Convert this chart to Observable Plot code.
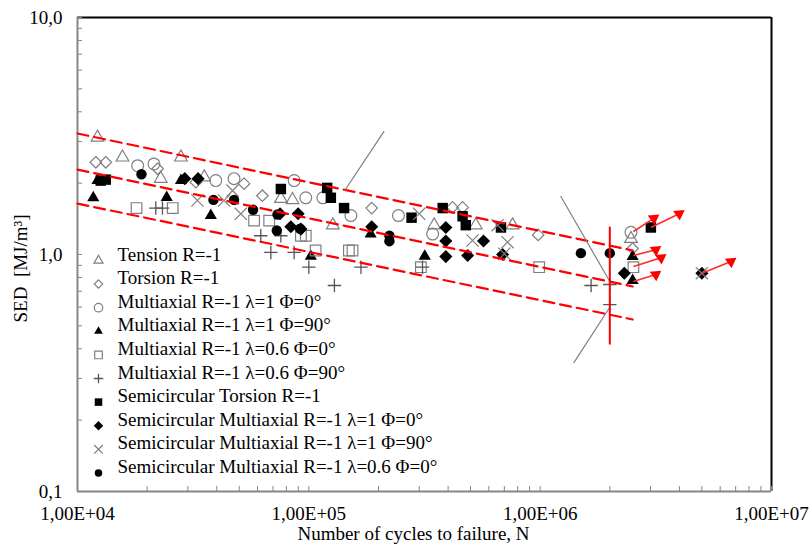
<!DOCTYPE html>
<html><head><meta charset="utf-8">
<script src="https://cdn.jsdelivr.net/npm/d3@7"></script>
<script src="https://cdn.jsdelivr.net/npm/@observablehq/plot@0.6"></script>
<style>html,body{margin:0;padding:0;background:#fff;overflow:hidden}</style>
</head><body><div id="chart"></div>
<script>
// ---- axis ticks ----
const xTicks = [1e4, 1e5, 1e6, 1e7];
const xTickLabels = ["1,00E+04", "1,00E+05", "1,00E+06", "1,00E+07"];
const yTicks = [0.1, 1, 10];
const yTickLabels = ["0,1", "1,0", "10,0"];
const xTitle = "Number of cycles to failure, N";
const yTitle = "SED  [MJ/m³]";

// ---- data series [N, SED] ----
const tension = [[1.22e4,3.12],[1.565e4,2.57],[2.8e4,2.57],[2.29e4,2.09],[3.53e4,2.12],[7.57e4,1.72],[8.5e4,1.70],[1.27e5,1.33],[3.48e5,1.33],[5.27e5,1.33],[7.6e5,1.33],[2.47e6,1.165]];
const torsion = [[1.2e4,2.45],[1.325e4,2.45],[2.22e4,2.30],[3.25e4,2.02],[5.25e4,1.99],[6.3e4,1.77],[1.87e5,1.57],[4.18e5,1.58],[4.62e5,1.58],[9.8e5,1.21],[2.51e6,1.06]];
const multi_l1_p0 = [[1.82e4,2.37],[2.14e4,2.41],[3.96e4,2.05],[4.75e4,2.09],[8.64e4,2.05],[9.7e4,1.735],[1.15e5,1.735],[1.52e5,1.46],[2.44e5,1.46],[3.43e5,1.22],[2.47e6,1.24]];
const multi_l1_p90 = [[1.17e4,1.735],[1.22e4,2.05],[2.43e4,1.74],[2.8e4,2.05],[3.77e4,1.46],[1.02e5,0.984],[1.85e5,1.22],[3.17e5,0.984],[2.51e6,0.98],[2.51e6,0.777]];
const multi_l06_p0 = [[1.8e4,1.57],[2.58e4,1.57],[5.8e4,1.39],[6.74e4,1.39],[9.24e4,1.20],[9.7e4,1.20],[1.07e5,1.04],[1.49e5,1.04],[1.545e5,1.04],[3.05e5,0.884],[9.9e5,0.884],[2.53e6,0.884]];
const multi_l06_p90 = [[2.18e4,1.57],[2.33e4,1.57],[6.2e4,1.20],[7.57e4,1.20],[6.85e4,1.02],[8.64e4,1.02],[1.0e5,0.884],[1.68e5,0.884],[1.29e5,0.74],[3.1e5,0.884],[1.66e6,0.74],[2.0e6,0.747],[2.0e6,0.615]];
const semiTorsion = [[1.26e4,2.05],[1.325e4,2.07],[7.57e4,1.89],[1.2e5,1.91],[1.245e5,1.735],[1.42e5,1.57],[2.78e5,1.43],[3.79e5,1.57],[4.62e5,1.45],[4.77e5,1.33],[6.77e5,1.30],[3.01e6,1.30]];
const semi_l1_p0 = [[2.91e4,2.09],[3.32e4,2.09],[7.51e4,1.485],[8.99e4,1.485],[8.36e4,1.31],[9.24e4,1.28],[1.87e5,1.31],[3.91e5,1.30],[3.91e5,1.14],[5.69e5,1.14],[3.91e5,0.98],[4.86e5,0.99],[6.88e5,1.0],[2.31e6,0.834],[5.0e6,0.834]];
const semi_l1_p90 = [[3.3e4,1.69],[4.3e4,1.69],[4.68e4,1.86],[5.08e4,1.485],[3.0e5,1.485],[5.1e5,1.146],[6.55e5,1.33],[7.23e5,1.127],[7.0e5,1.007],[5.0e6,0.834]];
const semi_l06_p0 = [[1.89e4,2.18],[3.87e4,1.70],[4.75e4,1.70],[5.74e4,1.544],[7.32e4,1.475],[7.27e4,1.263],[9.17e4,1.284],[2.23e5,1.138],[2.23e5,1.20],[1.5e6,1.013],[2.0e6,1.013]];

const seriesNames = [
  "Tension R=-1",
  "Torsion R=-1",
  "Multiaxial R=-1 λ=1 Φ=0°",
  "Multiaxial R=-1 λ=1 Φ=90°",
  "Multiaxial R=-1 λ=0.6 Φ=0°",
  "Multiaxial R=-1 λ=0.6 Φ=90°",
  "Semicircular Torsion R=-1",
  "Semicircular Multiaxial R=-1 λ=1 Φ=0°",
  "Semicircular Multiaxial R=-1 λ=1 Φ=90°",
  "Semicircular Multiaxial R=-1 λ=0.6 Φ=0°"
];

// ---- scatter band lines, limit line, pointer lines, run-out arrows ----
const bandUpper = [[1e4, 3.24], [2.51e6, 1.04]];
const bandMiddle = [[1e4, 2.28], [2.51e6, 0.733]];
const bandLower = [[1e4, 1.64], [2.51e6, 0.532]];
const limitLine = [[2e6, 1.30], [2e6, 0.42]];
const pointerA = [[2.11e5, 3.30], [1.43e5, 1.862]];
const pointerB = [[1.229e6, 1.757], [2.0e6, 0.769]];
const pointerC = [[2.0e6, 0.599], [1.399e6, 0.350]];
const runoutFromN = [2.53e6, 3.01e6, 2.53e6, 2.53e6, 2.53e6, 5.0e6];
const runoutFromS = [1.25, 1.30, 0.99, 0.89, 0.77, 0.834];
const runoutToN = [3.1e6, 3.99e6, 3.16e6, 3.33e6, 3.16e6, 6.68e6];
const runoutToS = [1.42, 1.485, 1.047, 0.968, 0.823, 0.934];

// ---- build ----
const seriesData = [tension, torsion, multi_l1_p0, multi_l1_p90, multi_l06_p0, multi_l06_p90, semiTorsion, semi_l1_p0, semi_l1_p90, semi_l06_p0];
const GRAY = "#7f7f7f";
const styles = [
  {symbol: "triangle", fill: "none", stroke: GRAY, r: 4.7, sw: 1.2},
  {symbol: "diamond2", fill: "none", stroke: GRAY, r: 5.2, sw: 1.2},
  {symbol: "circle", fill: "none", stroke: GRAY, r: 5.9, sw: 1.2},
  {symbol: "triangle", fill: "black", stroke: "none", r: 4.5, sw: 0},
  {symbol: "square", fill: "none", stroke: GRAY, r: 6, sw: 1.2},
  {symbol: "plus", fill: "none", stroke: "#555", r: 4.4, sw: 1.3},
  {symbol: "square", fill: "black", stroke: "none", r: 5.9, sw: 0},
  {symbol: "diamond2", fill: "black", stroke: "none", r: 5.9, sw: 0},
  {symbol: "times", fill: "none", stroke: GRAY, r: 5.6, sw: 1.2},
  {symbol: "circle", fill: "black", stroke: "none", r: 5.2, sw: 0}
];

const decades = [1e4, 1e5, 1e6];
const xMinor = decades.flatMap(d => d3.range(1, 10).map(k => k * d)).concat([1e7]);
const yMinor = [0.1, 1].flatMap(d => d3.range(1, 10).map(k => k * d)).concat([10]);

const runouts = runoutFromN.map((n, i) => ({x1: n, y1: runoutFromS[i], x2: runoutToN[i], y2: runoutToS[i]}));

const FS = 19;
const marks = [];
// frame
marks.push(Plot.ruleY([10], {stroke: "#000", strokeWidth: 2}));
marks.push(Plot.ruleX([1e7], {stroke: "#000", strokeWidth: 2}));
// axes
marks.push(Plot.axisX({ticks: xMinor, tickSize: 5, dy: -5, tickFormat: () => "", label: null, stroke: "#868686"}));
marks.push(Plot.axisY({ticks: yMinor, tickSize: 5, dx: 5, tickFormat: () => "", label: null, stroke: "#868686"}));
marks.push(Plot.axisX({ticks: xTicks, tickSize: 0, tickPadding: 15, tickFormat: d => xTickLabels[xTicks.indexOf(d)], label: null, fontSize: FS, fill: "#000"}));
marks.push(Plot.axisY({ticks: yTicks, tickSize: 0, tickPadding: 15, tickFormat: d => yTickLabels[yTicks.indexOf(d)], label: null, fontSize: FS, fill: "#000"}));
marks.push(Plot.ruleX([1e4], {stroke: "#868686", strokeWidth: 2}));
marks.push(Plot.ruleY([0.1], {stroke: "#868686", strokeWidth: 2}));

// points
seriesData.forEach((data, i) => {
  const s = styles[i];
  marks.push(Plot.dot(data, {x: d => d[0], y: d => d[1], symbol: s.symbol, fill: s.fill, stroke: s.stroke, strokeWidth: s.sw, r: s.r}));
});

// annotation lines
for (const band of [bandUpper, bandMiddle, bandLower]) {
  marks.push(Plot.line(band, {x: d => d[0], y: d => d[1], stroke: "#ff0000", strokeWidth: 2.2, strokeDasharray: "11,6"}));
}
for (const p of [pointerA, pointerB, pointerC]) {
  marks.push(Plot.line(p, {x: d => d[0], y: d => d[1], stroke: "#7f7f7f", strokeWidth: 1.2}));
}
marks.push(Plot.line(limitLine, {x: d => d[0], y: d => d[1], stroke: "#ff0000", strokeWidth: 2}));
marks.push(Plot.link(runouts, {x1: "x1", y1: "y1", x2: "x2", y2: "y2", stroke: "#ff2a2a", strokeWidth: 1.6}));
marks.push(Plot.dot(runouts, {x: "x2", y: "y2", symbol: "triangle", fill: "#ff0000", stroke: "none", r: 4.3, rotate: 175}));

// titles
marks.push(Plot.text([xTitle], {frameAnchor: "bottom", textAnchor: "middle", dx: -11, dy: 48, text: d => d, fontSize: FS, fill: "#000"}));
marks.push(Plot.text([yTitle], {frameAnchor: "left", textAnchor: "start", dx: -57, dy: 68, rotate: -90, text: d => d, fontSize: FS, fill: "#000"}));

// legend (inside plot, bottom-left)
seriesNames.forEach((name, i) => {
  const s = styles[i];
  const dy = -231 + i * 23.6;
  marks.push(Plot.dot([name], {frameAnchor: "bottom-left", dx: 21, dy, symbol: s.symbol, fill: s.fill, stroke: s.stroke, strokeWidth: s.sw, r: s.r * 0.72}));
  marks.push(Plot.text([name], {frameAnchor: "bottom-left", dx: 40, dy, text: d => d, textAnchor: "start", fontSize: FS, fill: "#000"}));
});

const chart = Plot.plot({
  width: 811,
  height: 550,
  marginLeft: 77,
  marginRight: 40,
  marginTop: 17,
  marginBottom: 59,
  x: {type: "log", domain: [1e4, 1e7]},
  y: {type: "log", domain: [0.1, 10]},
  style: {fontFamily: "'Liberation Serif', 'Times New Roman', serif", fontSize: FS + "px", background: "#fff", color: "#000"},
  marks
});
document.getElementById("chart").appendChild(chart);
</script>
</body></html>
